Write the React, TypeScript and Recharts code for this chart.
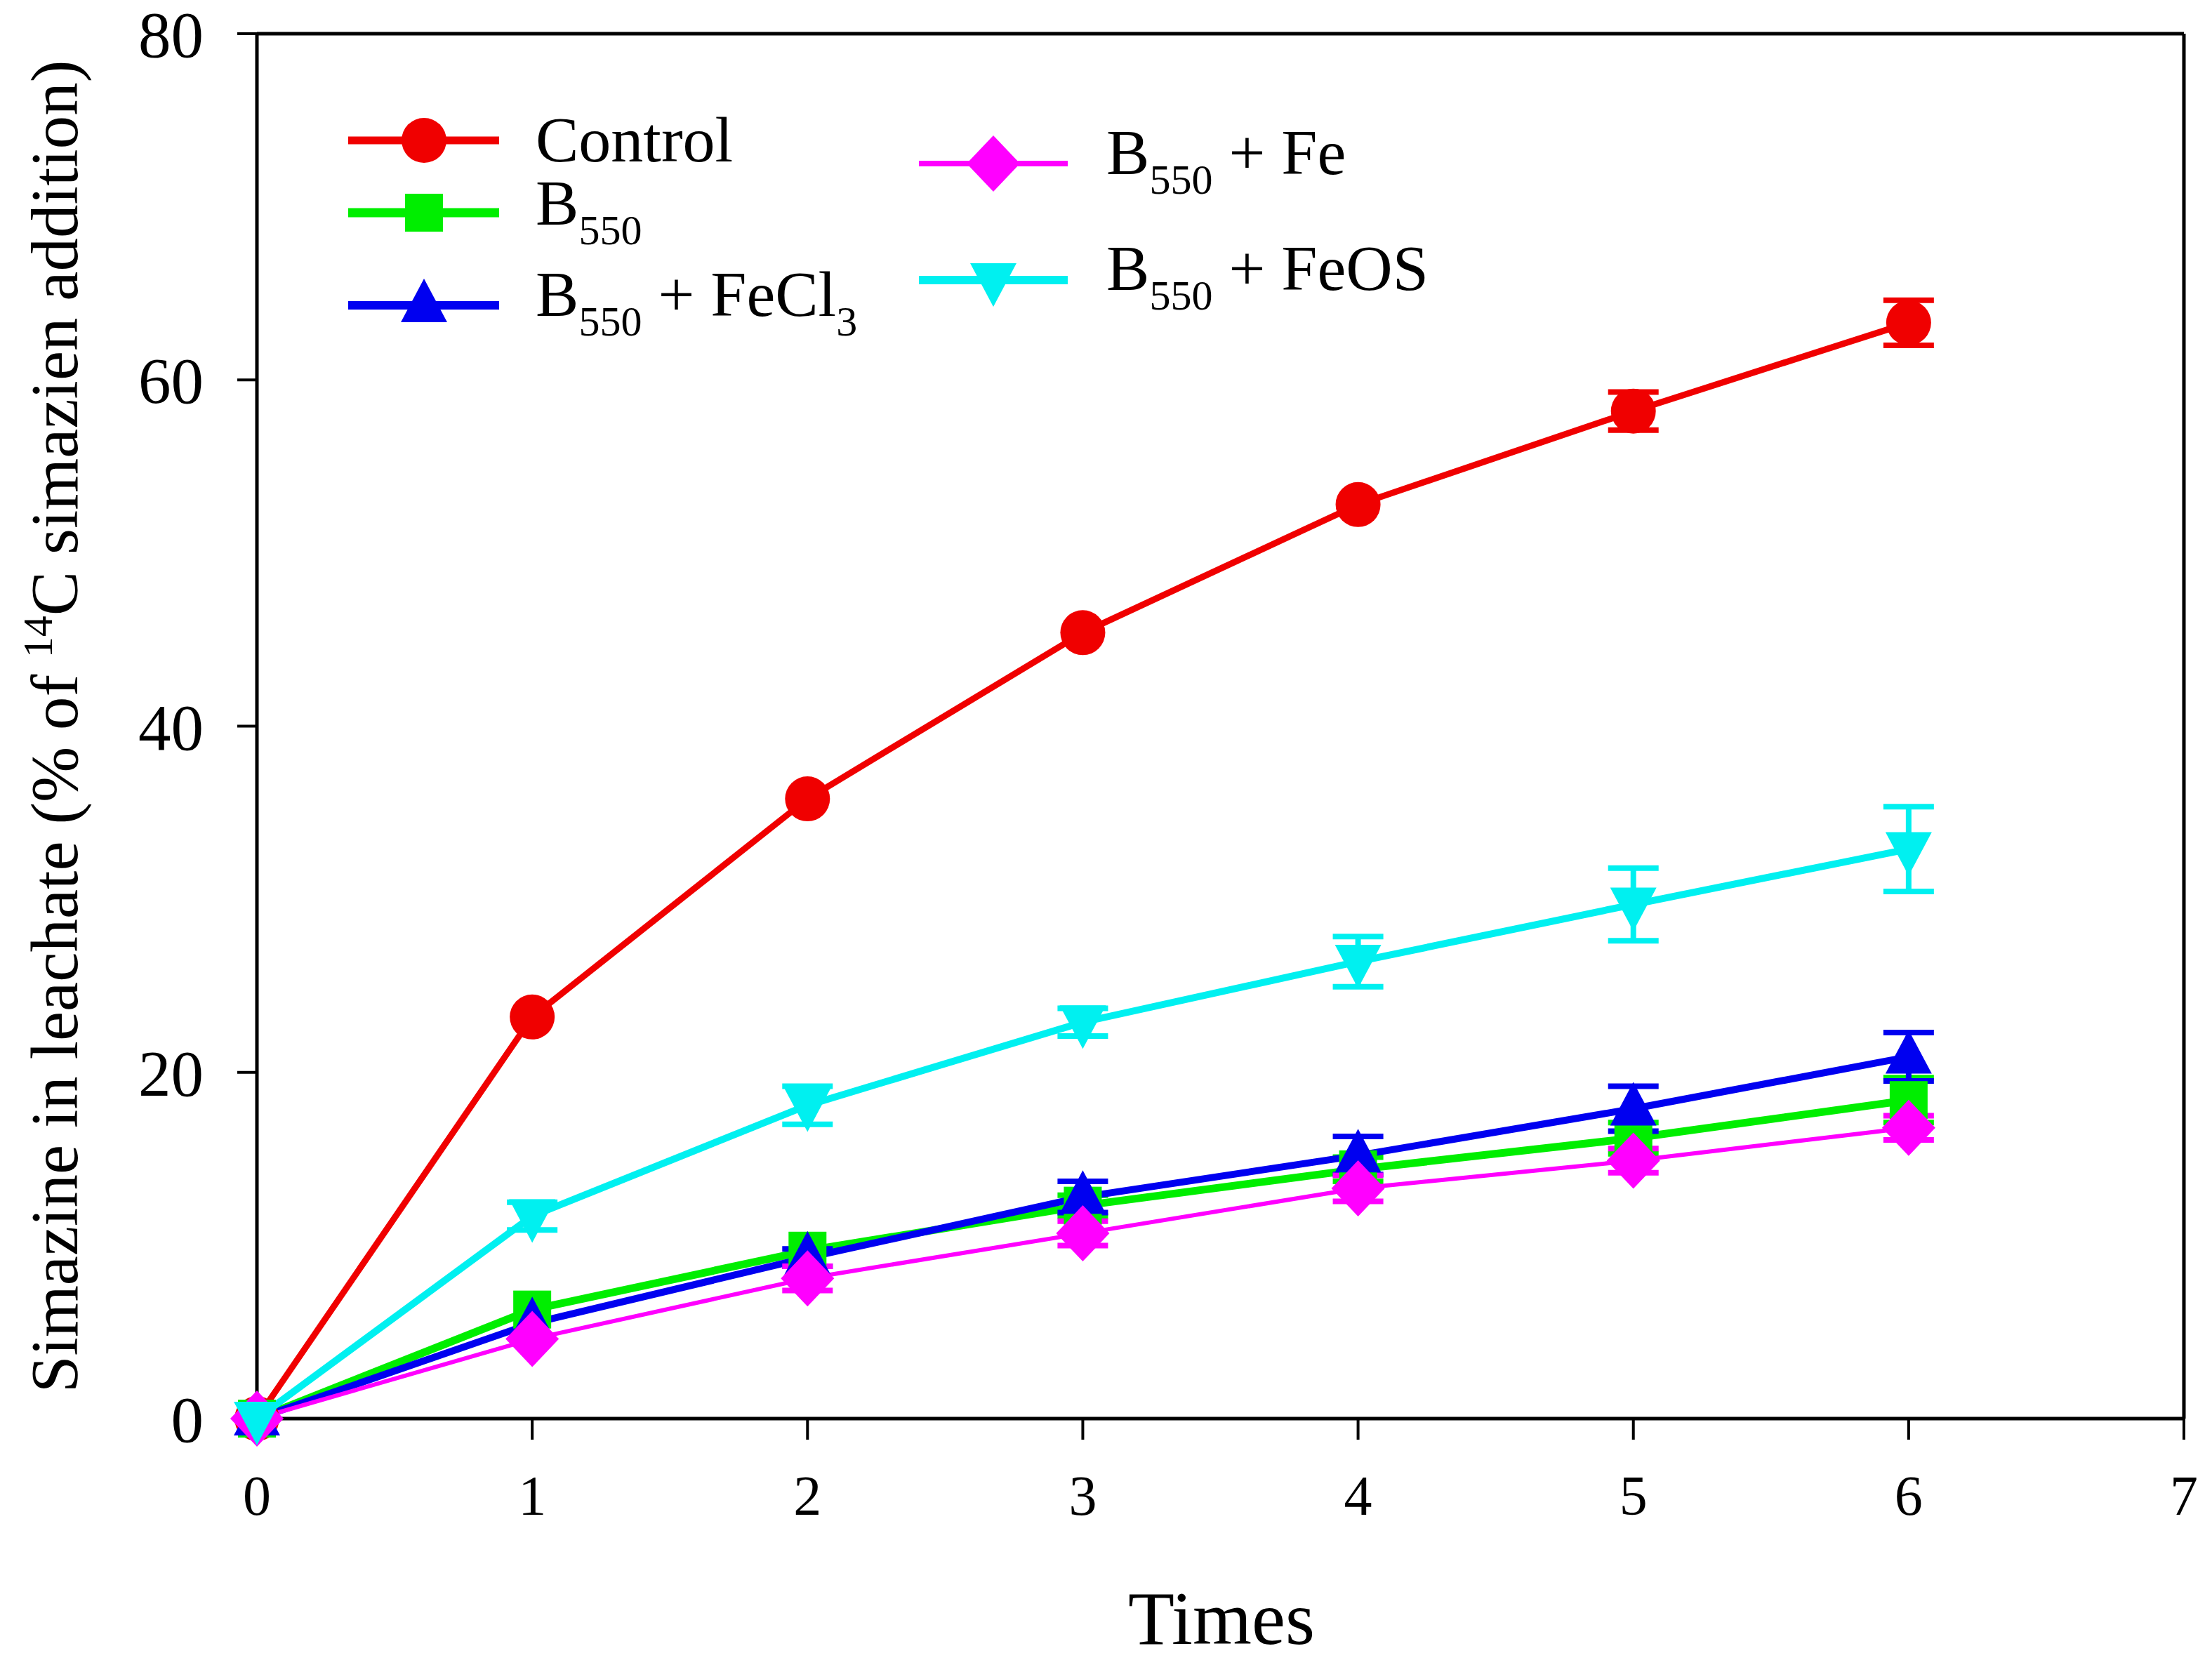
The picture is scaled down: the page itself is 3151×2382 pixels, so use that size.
import React from 'react';
import { LineChart, Line, XAxis, YAxis, ErrorBar, ReferenceLine, Legend } from 'recharts';

// ---- data ----
const times = [0, 1, 2, 3, 4, 5, 6];
const control = [0, 23.2, 35.8, 45.4, 52.8, 58.2, 63.3];
const controlErr = [0, 0, 0, 0, 0, 1.1, 1.3];
const b550 = [0, 6.3, 9.7, 12.3, 14.4, 16.2, 18.4];
const b550Err = [0, 0, 0, 0.6, 0.7, 0.9, 1.3];
const b550FeCl3 = [0, 5.5, 9.3, 12.8, 15.2, 17.9, 20.9];
const b550FeCl3Err = [0, 0, 0.5, 0.9, 1.1, 1.3, 1.4];
const b550Fe = [0, 4.6, 8.1, 10.7, 13.3, 14.9, 16.8];
const b550FeErr = [0, 0, 0.7, 0.7, 0.75, 0.7, 0.7];
const b550FeOS = [0, 11.7, 18.1, 22.9, 26.4, 29.7, 32.9];
const b550FeOSErr = [0, 0.8, 1.1, 0.8, 1.45, 2.1, 2.45];
const xTicks = [0, 1, 2, 3, 4, 5, 6, 7];
const yTicks = [0, 20, 40, 60, 80];

const data = times.map((t, i) => ({
  t,
  control: control[i],
  controlErr: controlErr[i],
  b550: b550[i],
  b550Err: b550Err[i],
  b550FeCl3: b550FeCl3[i],
  b550FeCl3Err: b550FeCl3Err[i],
  b550Fe: b550Fe[i],
  b550FeErr: b550FeErr[i],
  b550FeOS: b550FeOS[i],
  b550FeOSErr: b550FeOSErr[i],
}));

const FONT = "'Liberation Serif', 'Times New Roman', serif";
const RED = '#f00000';
const GREEN = '#00ee00';
const BLUE = '#0000f0';
const MAGENTA = '#ff00ff';
const CYAN = '#00f0f0';

type Shape = 'circle' | 'square' | 'up' | 'down' | 'diamond';

function marker(shape: Shape, cx: number, cy: number, color: string, key?: any) {
  switch (shape) {
    case 'circle':
      return <circle key={key} cx={cx} cy={cy} r={32} fill={color} stroke="none" />;
    case 'square':
      return <rect key={key} x={cx - 27} y={cy - 27} width={54} height={54} fill={color} stroke="none" />;
    case 'up':
      return <polygon key={key} points={`${cx},${cy - 38} ${cx + 33},${cy + 24} ${cx - 33},${cy + 24}`} fill={color} stroke="none" />;
    case 'down':
      return <polygon key={key} points={`${cx},${cy + 38} ${cx + 33},${cy - 24} ${cx - 33},${cy - 24}`} fill={color} stroke="none" />;
    case 'diamond':
    default:
      return <polygon key={key} points={`${cx},${cy - 40} ${cx + 38},${cy} ${cx},${cy + 40} ${cx - 38},${cy}`} fill={color} stroke="none" />;
  }
}

const renderDot = (shape: Shape, color: string) => (props: any) => {
  const { cx, cy, index } = props;
  if (cx == null || cy == null) return <g key={`d-${index}`} />;
  return marker(shape, cx, cy, color, `d-${index}`);
};

// ---- legend ----
const legendItems = [
  { id: 'control', shape: 'circle' as Shape, color: RED, sw: 9, col: 0, y: 200, base: 230 },
  { id: 'b550', shape: 'square' as Shape, color: GREEN, sw: 11, col: 0, y: 303, base: 320 },
  { id: 'b550FeCl3', shape: 'up' as Shape, color: BLUE, sw: 10, col: 0, y: 435, base: 450 },
  { id: 'b550Fe', shape: 'diamond' as Shape, color: MAGENTA, sw: 6, col: 1, y: 233, base: 248 },
  { id: 'b550FeOS', shape: 'down' as Shape, color: CYAN, sw: 10, col: 1, y: 399, base: 413 },
];
const legendCols = [
  { x1: 496, x2: 711, mx: 604, tx: 763 },
  { x1: 1309, x2: 1521, mx: 1415, tx: 1576 },
];

function legendLabel(id: string) {
  switch (id) {
    case 'control':
      return <tspan>Control</tspan>;
    case 'b550':
      return (
        <>
          <tspan>B</tspan>
          <tspan fontSize={60} dy={28}>550</tspan>
        </>
      );
    case 'b550FeCl3':
      return (
        <>
          <tspan>B</tspan>
          <tspan fontSize={60} dy={28}>550</tspan>
          <tspan dy={-28}>{' + FeCl'}</tspan>
          <tspan fontSize={60} dy={28}>3</tspan>
        </>
      );
    case 'b550Fe':
      return (
        <>
          <tspan>B</tspan>
          <tspan fontSize={60} dy={28}>550</tspan>
          <tspan dy={-28}>{' + Fe'}</tspan>
        </>
      );
    case 'b550FeOS':
    default:
      return (
        <>
          <tspan>B</tspan>
          <tspan fontSize={60} dy={28}>550</tspan>
          <tspan dy={-28}>{' + FeOS'}</tspan>
        </>
      );
  }
}

const LegendContent = () => (
  <svg width={1800} height={520} style={{ display: 'block', overflow: 'visible' }}>
    {legendItems.map((it) => {
      const c = legendCols[it.col];
      return (
        <g key={it.id}>
          <line x1={c.x1} y1={it.y} x2={c.x2} y2={it.y} stroke={it.color} strokeWidth={it.sw + 2} />
          {marker(it.shape, c.mx, it.y, it.color)}
          <text x={c.tx} y={it.base} fontFamily={FONT} fontSize={92} fill="#000" style={{ whiteSpace: 'pre' }}>
            {legendLabel(it.id)}
          </text>
        </g>
      );
    })}
  </svg>
);

const XTitle = () => (
  <text x={1740} y={2342} textAnchor="middle" fontFamily={FONT} fontSize={108} fill="#000">
    Times
  </text>
);

const YTitle = () => (
  <text
    transform="translate(110, 1035) rotate(-90)"
    x={0}
    y={0}
    textAnchor="middle"
    fontFamily={FONT}
    fontSize={95}
    fill="#000"
    style={{ whiteSpace: 'pre' }}
  >
    <tspan>{'Simazine in leachate (% of '}</tspan>
    <tspan fontSize={60} dy={-36}>14</tspan>
    <tspan dy={36}>{'C simazien addition)'}</tspan>
  </text>
);

const tickStyleX = { fontSize: 80, fill: '#000', fontFamily: FONT };
const tickStyleY = { fontSize: 93, fill: '#000', fontFamily: FONT };

export default function App() {
  return (
    <div style={{ position: 'absolute', left: 0, top: 0, width: 3151, height: 2382, background: '#fff' }}>
      <LineChart
        width={3151}
        height={2382}
        data={data}
        margin={{ top: 48, right: 40, bottom: 301, left: 306 }}
        style={{ background: '#fff' }}
      >
        <XAxis
          dataKey="t"
          type="number"
          domain={[0, 7]}
          ticks={xTicks}
          interval={0}
          height={60}
          axisLine={{ stroke: '#000', strokeWidth: 5 }}
          tickLine={{ stroke: '#000', strokeWidth: 4 }}
          tickSize={30}
          tickMargin={50}
          tick={tickStyleX}
          label={<XTitle />}
        />
        <YAxis
          type="number"
          domain={[0, 80]}
          ticks={yTicks}
          interval={0}
          width={60}
          axisLine={{ stroke: '#000', strokeWidth: 5 }}
          tickLine={{ stroke: '#000', strokeWidth: 4 }}
          tickSize={28}
          tickMargin={48}
          tick={tickStyleY}
          label={<YTitle />}
        />
        <ReferenceLine y={80} stroke="#000" strokeWidth={5} />
        <ReferenceLine x={7} stroke="#000" strokeWidth={5} />
        <Legend
          layout="horizontal"
          verticalAlign="middle"
          align="center"
          content={<LegendContent />}
          wrapperStyle={{ left: 0, top: 0, width: 1800, height: 520 }}
        />
        <Line
          name="Control"
          dataKey="control"
          stroke={RED}
          strokeWidth={9}
          isAnimationActive={false}
          dot={renderDot('circle', RED)}
          activeDot={false}
        >
          <ErrorBar dataKey="controlErr" direction="y" width={36} stroke={RED} strokeWidth={8} />
        </Line>
        <Line
          name="B550"
          dataKey="b550"
          stroke={GREEN}
          strokeWidth={11}
          isAnimationActive={false}
          dot={renderDot('square', GREEN)}
          activeDot={false}
        >
          <ErrorBar dataKey="b550Err" direction="y" width={36} stroke={GREEN} strokeWidth={8} />
        </Line>
        <Line
          name="B550 + FeCl3"
          dataKey="b550FeCl3"
          stroke={BLUE}
          strokeWidth={10}
          isAnimationActive={false}
          dot={renderDot('up', BLUE)}
          activeDot={false}
        >
          <ErrorBar dataKey="b550FeCl3Err" direction="y" width={36} stroke={BLUE} strokeWidth={8} />
        </Line>
        <Line
          name="B550 + Fe"
          dataKey="b550Fe"
          stroke={MAGENTA}
          strokeWidth={6}
          isAnimationActive={false}
          dot={renderDot('diamond', MAGENTA)}
          activeDot={false}
        >
          <ErrorBar dataKey="b550FeErr" direction="y" width={36} stroke={MAGENTA} strokeWidth={8} />
        </Line>
        <Line
          name="B550 + FeOS"
          dataKey="b550FeOS"
          stroke={CYAN}
          strokeWidth={10}
          isAnimationActive={false}
          dot={renderDot('down', CYAN)}
          activeDot={false}
        >
          <ErrorBar dataKey="b550FeOSErr" direction="y" width={36} stroke={CYAN} strokeWidth={8} />
        </Line>
      </LineChart>
    </div>
  );
}
